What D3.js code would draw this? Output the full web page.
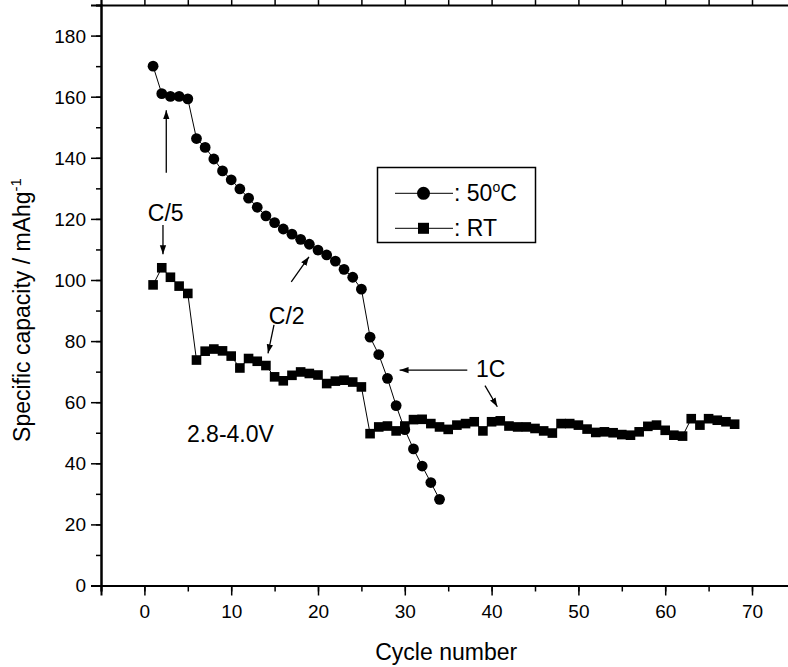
<!DOCTYPE html>
<html>
<head>
<meta charset="utf-8">
<script src="https://cdn.jsdelivr.net/npm/d3@7"></script>
<style>
  body { margin: 0; background: #fff; }
  svg { display: block; font-family: Arial, "Liberation Sans", sans-serif; }
</style>
</head>
<body>
<script>
// capacity vs cycle
const cycles50 = d3.range(1, 35);
const cap50 = [170, 161, 160.1, 160.1, 159.3, 146.3, 143.4, 139.6, 135.7, 132.8,
  129.8, 126.8, 123.8, 121.0, 118.8, 116.7, 115.0, 113.3, 111.7, 109.8,
  108.2, 106.2, 103.5, 100.9, 97.0, 81.3, 75.6, 67.8, 58.9, 51.0,
  44.7, 39.1, 33.7, 28.2];

const cyclesRT = d3.range(1, 69);
const capRT = [98.4, 104.0, 100.9, 98.0, 95.6, 73.8, 76.7, 77.4, 76.8, 75.1,
  71.2, 74.3, 73.4, 72.0, 68.3, 67.0, 68.8, 69.9, 69.4, 68.9,
  66.1, 66.9, 67.2, 66.6, 65.0, 49.7, 51.9, 52.2, 50.6, 52.2,
  54.3, 54.4, 53.0, 51.9, 51.1, 52.5, 53.0, 53.6, 50.6, 53.6,
  53.9, 52.2, 51.9, 51.9, 51.4, 50.6, 49.9, 53.0, 53.0, 52.5,
  51.2, 50.1, 50.3, 50.0, 49.4, 49.2, 50.3, 52.1, 52.5, 50.8,
  49.2, 48.9, 54.6, 52.5, 54.6, 54.1, 53.6, 52.8];

const xMajor = d3.range(0, 80, 10);
const xMinor = d3.range(-5, 80, 5);
const yMajor = d3.range(0, 200, 20);
const yMinor = d3.range(0, 200, 10);

const seriesNames = ["50", "RT"];

// annotations in data units: [x, y]
const labels = [
  {text: "C/5", at: [2.45, 119.2], anchor: "middle"},
  {text: "C/2", at: [16.4, 85.6], anchor: "middle"},
  {text: "2.8-4.0V", at: [4.9, 47.1], anchor: "start"},
  {text: "1C", at: [38.2, 68.1], anchor: "start"}
];
const arrows = [
  [[2.52, 135.1], [2.52, 155.6]],
  [[2.14, 118.0], [2.14, 108.4]],
  [[16.92, 99.4], [18.96, 107.6]],
  [[14.93, 85.3], [14.24, 76.0]],
  [[37.2, 70.5], [29.4, 70.5]],
  [[39.24, 65.4], [40.66, 58.5]]
];

const width = 788, height = 667;

const x = d3.scaleLinear().domain([-5, 75]).range([101, 795.4]);
const y = d3.scaleLinear().domain([0, 190]).range([585.5, 5.05]);

const svg = d3.select("body").append("svg")
    .attr("width", width)
    .attr("height", height);

svg.append("defs").append("marker")
    .attr("id", "head")
    .attr("viewBox", "0 0 10 10")
    .attr("refX", 10).attr("refY", 5)
    .attr("markerWidth", 9).attr("markerHeight", 9)
    .attr("markerUnits", "userSpaceOnUse")
    .attr("orient", "auto")
  .append("path")
    .attr("d", "M0,1.5L10,5L0,8.5Z")
    .attr("fill", "#000");

// axes: minor ticks first, then labelled major ticks
function styleAxis(g) {
  g.select(".domain").attr("stroke-width", 2);
  g.selectAll(".tick line").attr("stroke-width", 1.5);
  g.selectAll(".tick text").attr("font-size", 19).attr("fill", "#000");
}

svg.append("g")
    .attr("transform", `translate(0,${y(0)})`)
    .call(d3.axisBottom(x).tickValues(xMinor).tickSize(6).tickFormat(""))
    .call(styleAxis);
svg.append("g")
    .attr("transform", `translate(0,${y(0)})`)
    .call(d3.axisBottom(x).tickValues(xMajor).tickSize(10).tickPadding(9))
    .call(styleAxis);

svg.append("g")
    .attr("transform", `translate(0,${y(190)})`)
    .call(d3.axisTop(x).tickValues(xMinor).tickSize(5).tickFormat(""))
    .call(styleAxis);

svg.append("g")
    .attr("transform", `translate(${x(-5)},0)`)
    .call(d3.axisLeft(y).tickValues(yMinor).tickSize(5).tickFormat(""))
    .call(styleAxis);
svg.append("g")
    .attr("transform", `translate(${x(-5)},0)`)
    .call(d3.axisLeft(y).tickValues(yMajor).tickSize(10).tickPadding(5))
    .call(styleAxis)
    .selectAll(".tick text").attr("dy", "0.34em");

svg.append("text")
    .attr("x", (x(-5) + x(75)) / 2 - 2)
    .attr("y", 660)
    .attr("text-anchor", "middle")
    .attr("font-size", 23)
    .text("Cycle number");

const yt = svg.append("text")
    .attr("transform", "translate(30,310) rotate(-90)")
    .attr("text-anchor", "middle")
    .attr("font-size", 23);
yt.append("tspan").text("Specific capacity / mAhg");
yt.append("tspan").attr("dy", -9).attr("font-size", 15).text("-1");

// data
const line = d3.line().x(d => x(d[0])).y(d => y(d[1]));
const pts50 = cycles50.map((c, i) => [c, cap50[i]]);
const ptsRT = cyclesRT.map((c, i) => [c, capRT[i]]);

svg.append("path").datum(pts50)
    .attr("d", line).attr("fill", "none").attr("stroke", "#000").attr("stroke-width", 1);
svg.append("path").datum(ptsRT)
    .attr("d", line).attr("fill", "none").attr("stroke", "#000").attr("stroke-width", 1);

svg.append("g").selectAll("rect")
  .data(ptsRT)
  .join("rect")
    .attr("x", d => x(d[0]) - 4.8)
    .attr("y", d => y(d[1]) - 4.8)
    .attr("width", 9.6).attr("height", 9.6)
    .attr("fill", "#000");

svg.append("g").selectAll("circle")
  .data(pts50)
  .join("circle")
    .attr("cx", d => x(d[0]))
    .attr("cy", d => y(d[1]))
    .attr("r", 5.4)
    .attr("fill", "#000");

// annotations
svg.append("g").selectAll("text")
  .data(labels)
  .join("text")
    .attr("x", d => x(d.at[0]))
    .attr("y", d => y(d.at[1]))
    .attr("text-anchor", d => d.anchor)
    .attr("font-size", 23)
    .text(d => d.text);

svg.append("g").selectAll("line")
  .data(arrows)
  .join("line")
    .attr("x1", d => x(d[0][0])).attr("y1", d => y(d[0][1]))
    .attr("x2", d => x(d[1][0])).attr("y2", d => y(d[1][1]))
    .attr("stroke", "#000").attr("stroke-width", 1.3)
    .attr("marker-end", "url(#head)");

// legend
const lg = svg.append("g");
lg.append("rect")
    .attr("x", 377.5).attr("y", 167.5)
    .attr("width", 158).attr("height", 75)
    .attr("fill", "#fff").attr("stroke", "#000").attr("stroke-width", 1.5);

seriesNames.forEach((name, i) => {
  const ly = 193.3 + i * 35;
  lg.append("line")
      .attr("x1", 395).attr("x2", 453)
      .attr("y1", ly).attr("y2", ly)
      .attr("stroke", "#000").attr("stroke-width", 1);
  if (i === 0) {
    lg.append("circle").attr("cx", 423.5).attr("cy", ly).attr("r", 6.5).attr("fill", "#000");
  } else {
    lg.append("rect").attr("x", 418).attr("y", ly - 5.5).attr("width", 11).attr("height", 11).attr("fill", "#000");
  }
  const t = lg.append("text")
      .attr("x", 454).attr("y", ly + 7.5)
      .attr("font-size", 23);
  if (i === 0) {
    t.append("tspan").text(": 50");
    t.append("tspan").attr("dy", -9).attr("font-size", 14).text("o");
    t.append("tspan").attr("dy", 9).text("C");
  } else {
    t.text(": RT");
  }
});
</script>
</body>
</html>
